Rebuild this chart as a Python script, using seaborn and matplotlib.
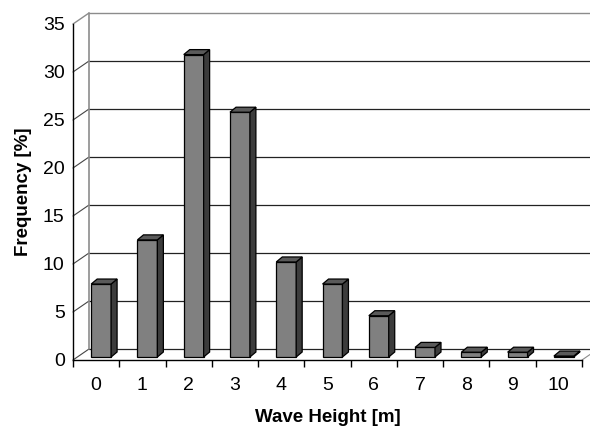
import numpy as np
import matplotlib
matplotlib.use("Agg")
import matplotlib.pyplot as plt
from matplotlib.patches import Polygon
import seaborn as sns

# wave height classes [m] and their frequency [%]
HEIGHTS = ["0", "1", "2", "3", "4", "5", "6", "7", "8", "9", "10"]
FREQ = [7.6, 12.2, 31.5, 25.5, 9.9, 7.6, 4.3, 1.0, 0.5, 0.5, 0.1]
YTICKS = [0, 5, 10, 15, 20, 25, 30, 35]

sns.set_style("white")
plt.rcParams["font.family"] = ["Liberation Sans", "DejaVu Sans"]

W, H = 590, 432
fig = plt.figure(figsize=(W / 100, H / 100), dpi=100)
ax = fig.add_axes([73 / W, 1 - 360 / H, 509 / W, 336 / H])
ax.set_xlim(-0.5, 10.5)
ax.set_ylim(0, 35)

# pixel -> data helpers
px = 11 / 509
py = 35 / 336
wdx, wdy = 16 * px, 11 * py     # back wall depth
bdx, bdy = 5 * px, 3 * py       # bar front face offset
ddx, ddy = 6 * px, 5 * py       # bar depth

x0, x1 = -0.5, 10.5
kw = dict(clip_on=False, zorder=1)

# back wall + left wall gridlines
for v in YTICKS[:-1]:
    ax.plot([x0 + wdx, x1 + wdx], [v + wdy, v + wdy], color="#222222", lw=0.9, **kw)
    ax.plot([x0, x0 + wdx], [v, v + wdy], color="#444444", lw=0.8, **kw)
top = YTICKS[-1]
ax.plot([x0 + wdx, x1 + wdx], [top + wdy, top + wdy], color="#8c8c8c", lw=1.0, **kw)
ax.plot([x0, x0 + wdx], [top, top + wdy], color="#8c8c8c", lw=1.0, **kw)
ax.plot([x0 + wdx, x0 + wdx], [wdy, top + wdy], color="#8c8c8c", lw=1.2, **kw)
# floor right edge
ax.plot([x1, x1 + wdx], [0, wdy], color="#8c8c8c", lw=0.8, **kw)

sns.barplot(x=HEIGHTS, y=FREQ, color="#808080", saturation=1, width=0.43,
            edgecolor="black", linewidth=0.9, ax=ax, zorder=3)

for p in ax.patches:
    p.set_x(p.get_x() + bdx)
    p.set_y(bdy)
    p.set_clip_on(False)
    bx, bw, bh = p.get_x(), p.get_width(), p.get_height()
    yt = bdy + bh
    side = Polygon([(bx + bw, bdy), (bx + bw + ddx, bdy + ddy),
                    (bx + bw + ddx, yt + ddy), (bx + bw, yt)],
                   closed=True, facecolor="#3c3c3c", edgecolor="black",
                   lw=0.9, zorder=3, clip_on=False)
    topf = Polygon([(bx, yt), (bx + ddx, yt + ddy), (bx + bw + ddx, yt + ddy),
                    (bx + bw, yt)],
                   closed=True, facecolor="#5a5a5a", edgecolor="black",
                   lw=0.9, zorder=3, clip_on=False)
    ax.add_patch(side)
    ax.add_patch(topf)

for s in ["top", "right"]:
    ax.spines[s].set_visible(False)
for s in ["left", "bottom"]:
    ax.spines[s].set_color("black")
    ax.spines[s].set_linewidth(1.0)
    ax.spines[s].set_zorder(4)

ax.set_yticks(YTICKS)
ax.tick_params(axis="y", length=5, width=1.0, color="black", labelsize=14,
               labelcolor="black", pad=1)
ax.set_xticks(range(len(HEIGHTS)))
ax.set_xticklabels(HEIGHTS)
ax.set_xticks(np.arange(-0.5, len(HEIGHTS), 1.0), minor=True)
ax.tick_params(axis="x", which="major", length=0, labelsize=14,
               labelcolor="black", pad=12)
ax.tick_params(axis="x", which="minor", length=5, width=1.0, color="black",
               direction="out", bottom=True)

ax.set_xlabel("Wave Height [m]", fontsize=13.5, fontweight="bold",
              color="black", labelpad=11)
ax.set_ylabel("Frequency [%]", fontsize=13.5, fontweight="bold",
              color="black", labelpad=8)

fig.savefig("out.png", dpi=100)
